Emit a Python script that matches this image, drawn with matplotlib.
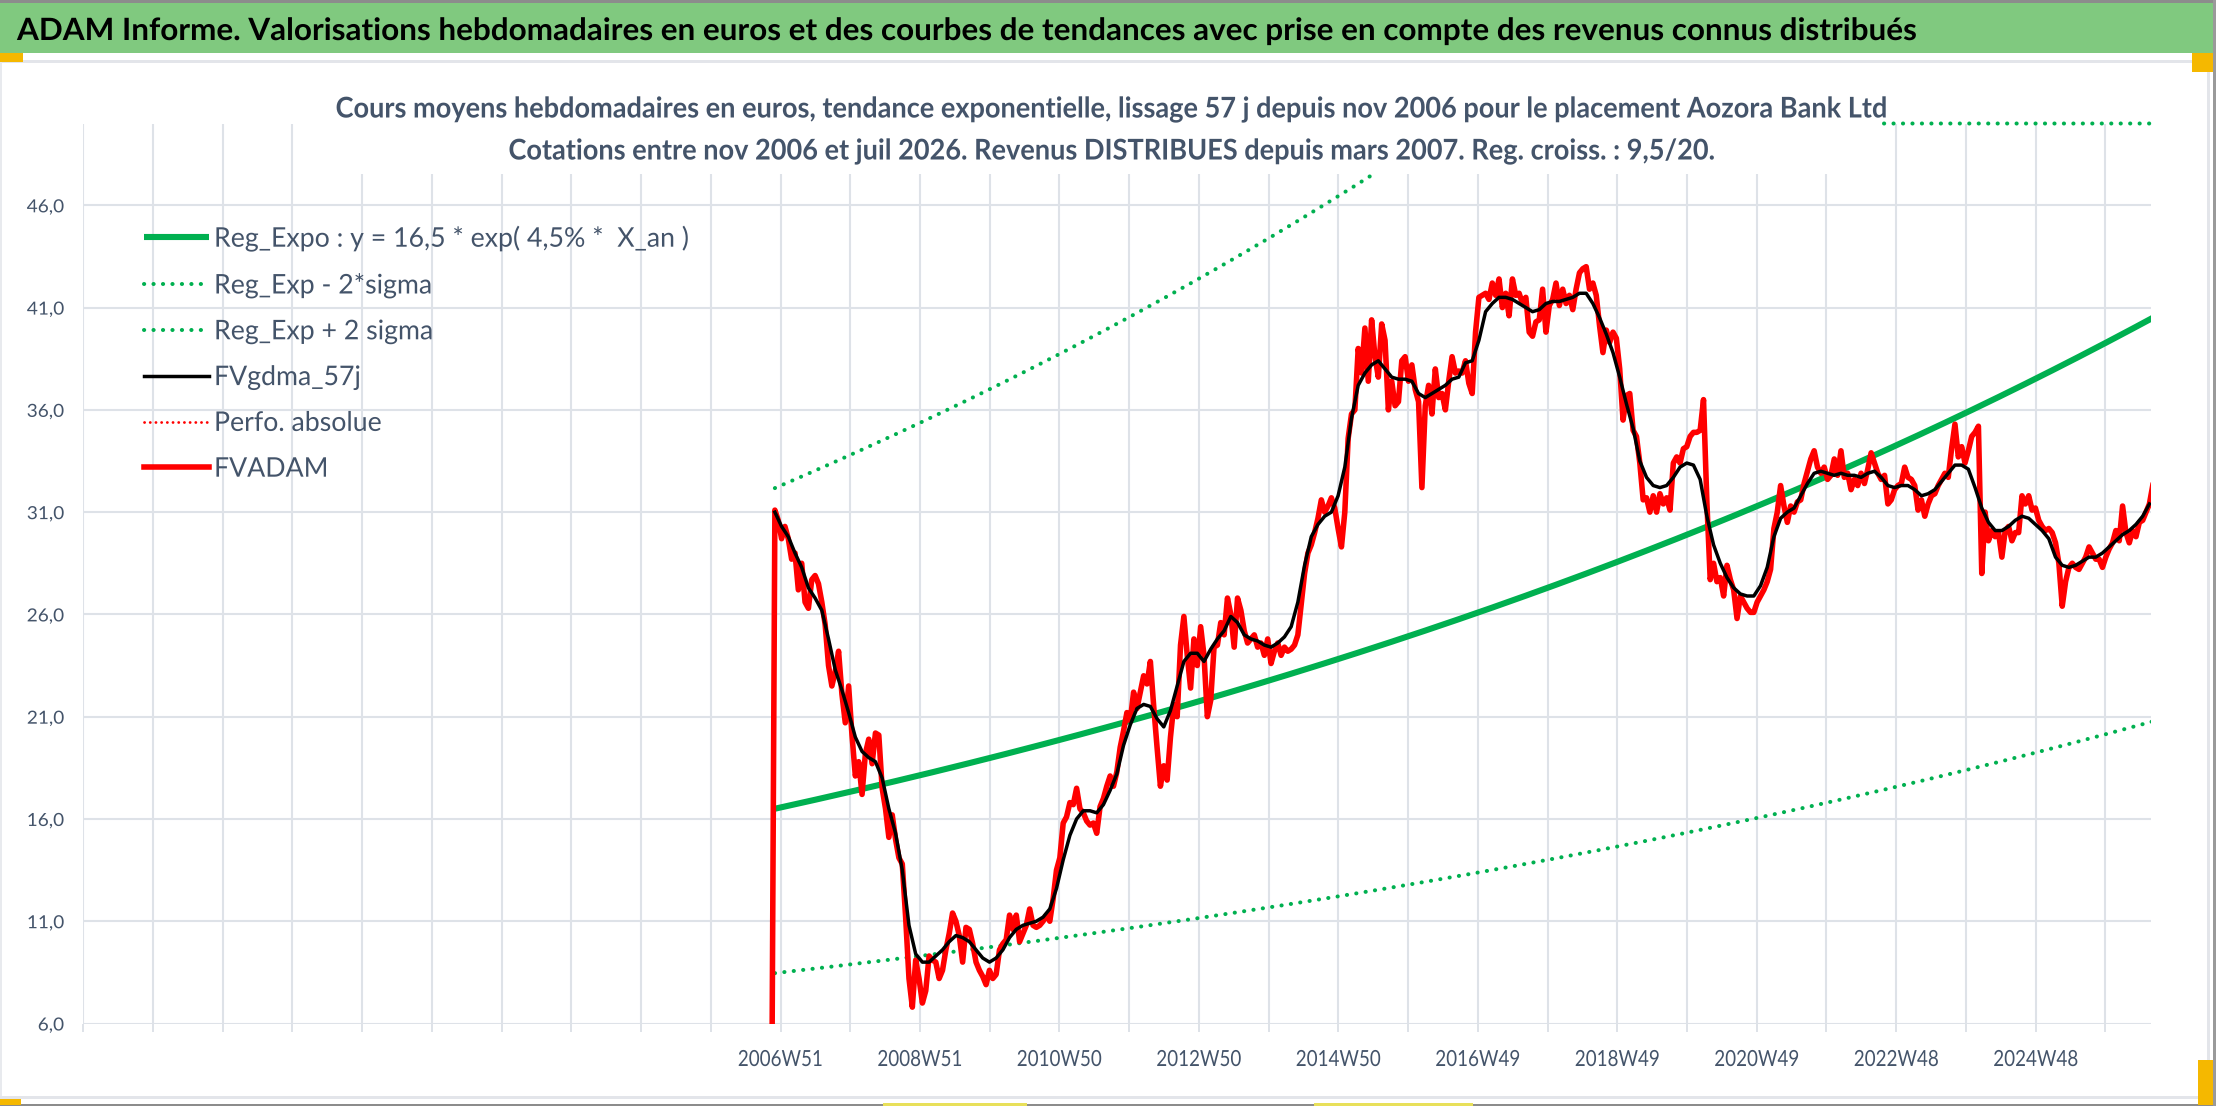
import numpy as np
import matplotlib
matplotlib.use("Agg")
import matplotlib.pyplot as plt
from matplotlib.patches import Rectangle
from matplotlib.patheffects import AbstractPathEffect
from matplotlib.transforms import Affine2D
from matplotlib.font_manager import FontProperties

# ---------------- data ----------------
week_labels = ["2006W51", "2008W51", "2010W50", "2012W50", "2014W50",
               "2016W49", "2018W49", "2020W49", "2022W48", "2024W48"]
first_label_week = 520      # category index of "2006W51"
label_every = 104           # weeks between two labels
grid_every = 52             # weeks between two tick marks / gridlines
n_weeks = 1542              # number of weekly categories on the axis

ytick_values = [6, 11, 16, 21, 26, 31, 36, 41, 46]
y_min, y_max = 6.0, 50.0

# FVADAM weekly valuation (sampled every 2.5 weeks, first point = start drop)
red_start_week = 513.3
red_step = 2.5
fvadam = [0.0,
    31.1, 30.6, 29.7, 30.3, 29.7, 28.7, 29.0, 27.2, 28.5, 26.6,
    26.3, 27.7, 27.9, 27.5, 26.6, 25.5, 23.5, 22.5, 23.2, 24.2,
    22.1, 20.7, 22.5, 20.1, 18.1, 18.8, 17.2, 19.2, 19.9, 18.7,
    20.2, 20.1, 17.5, 16.5, 15.1, 16.2, 15.0, 14.1, 13.8, 11.2,
    8.2, 6.8, 9.1, 8.2, 7.0, 7.6, 9.3, 9.1, 9.0, 8.2,
    8.6, 9.6, 10.4, 11.4, 11.0, 10.3, 9.0, 10.7, 10.6, 9.9,
    9.0, 8.6, 8.3, 7.9, 8.6, 8.2, 8.4, 9.6, 9.9, 10.1,
    11.3, 10.6, 11.3, 10.0, 10.4, 10.8, 11.6, 10.8, 10.7, 10.8,
    11.0, 11.3, 11.0, 12.1, 13.5, 14.1, 15.8, 16.1, 16.8, 16.7,
    17.5, 16.5, 16.3, 15.9, 15.7, 15.8, 15.3, 16.6, 17.0, 17.6,
    18.1, 17.6, 18.3, 19.5,
    20.3, 21.2, 20.8, 22.2, 21.4, 22.2, 23.0, 22.6, 23.7, 21.5,
    19.5, 17.6, 18.6, 17.9, 20.0, 21.6, 21.0, 24.5, 25.9, 24.0,
    22.4, 24.8, 23.5, 25.4, 24.0, 21.0, 21.8, 24.4, 24.5, 25.6,
    25.0, 26.8, 26.0, 24.4, 26.8, 26.2, 25.2, 24.6, 24.8, 25.0,
    24.4, 24.6, 24.0, 24.8, 23.6, 24.2, 24.6, 24.0, 24.4, 24.2,
    24.3, 24.5, 25.0, 26.5, 28.0, 29.0, 29.4, 30.0, 30.7, 31.6,
    31.0, 31.3, 31.7, 31.2, 30.2, 29.3, 31.0, 34.6, 35.8, 36.0,
    39.0, 37.8, 40.0, 37.4, 40.4, 38.6, 37.6, 40.2, 39.4, 36.0,
    37.4, 36.2, 36.4, 38.4, 38.6, 37.4, 38.2, 37.0, 36.4, 32.2,
    36.2, 37.2, 35.8, 38.0, 36.6, 36.8, 36.0, 37.4, 38.6, 37.8,
    37.9,
    37.8, 38.4, 37.3, 36.8, 39.8, 41.5, 41.6, 41.7, 41.4, 42.2,
    41.6, 42.4, 41.0, 41.7, 40.6, 42.4, 41.6, 41.7, 41.2, 41.5,
    39.8, 39.6, 40.3, 40.4, 41.9, 39.8, 41.1, 41.4, 42.2, 41.1,
    41.9, 41.2, 41.6, 40.9, 41.9, 42.7, 42.9, 43.0, 41.9, 42.2,
    41.6, 40.1, 38.8, 39.9, 39.3, 39.8, 39.5, 38.0, 35.5, 36.7,
    36.8, 35.0, 34.7, 33.4, 31.6, 31.7, 31.0, 31.8, 31.0, 31.9,
    31.4, 31.7, 31.1, 33.4, 33.7, 33.4, 34.1, 34.2, 34.7, 34.9,
    34.9, 35.0, 36.5, 31.5, 27.7, 28.5, 27.6, 27.8, 26.9, 28.4,
    27.7, 27.2, 25.8, 26.9, 26.6, 26.3, 26.1, 26.1, 26.6, 26.9,
    27.2, 27.6, 28.2, 30.2, 31.0, 32.3, 31.3, 30.5, 31.3, 31.0,
    31.5, 31.6,
    32.4, 33.0, 33.6, 34.0, 33.2, 32.9, 33.2, 32.6, 32.8, 33.6,
    32.8, 34.0, 32.7, 32.9, 32.1, 32.6, 32.3, 32.9, 32.4, 33.1,
    33.9, 33.4, 32.9, 32.6, 32.8, 31.4, 31.6, 32.1, 32.3, 32.4,
    33.2, 32.7, 32.6, 32.3, 31.1, 31.6, 30.8, 31.4, 31.8, 31.9,
    32.3, 32.6, 32.9, 32.7, 34.1, 35.3, 33.7, 34.2, 33.4, 34.0,
    34.7, 34.9, 35.2, 28.0, 31.0, 29.6, 30.1, 29.8, 30.0, 28.8,
    30.1, 30.3, 29.6, 30.0, 30.0, 31.8, 31.4, 31.8, 31.1, 31.2,
    30.6, 30.3, 30.1, 30.2, 30.0, 29.5, 28.5, 26.4, 27.6, 28.3,
    28.5, 28.3, 28.2, 28.5, 28.8, 29.3, 29.0, 28.7, 28.7, 28.3,
    28.8, 29.2, 29.5, 30.1, 29.6, 31.3, 30.0, 29.5, 30.1, 29.8,
    30.5, 30.6, 31.0, 31.4, 32.3]

# FVgdma_57j smoothed curve (sampled every 5 weeks)
black_start_week = 515.8
black_step = 5.0
fvgdma_57j = [
    31.0, 30.3, 29.8, 29.0, 28.3, 27.3, 26.8, 26.2, 24.8, 23.3,
    22.3, 21.2, 20.0, 19.3, 19.0, 18.8, 18.0, 16.5, 15.3, 13.5,
    10.8, 9.4, 9.0, 9.0, 9.3, 9.6, 10.0, 10.3, 10.2, 10.0,
    9.6, 9.2, 9.0, 9.2, 9.6, 10.2, 10.6, 10.8, 10.9, 11.0,
    11.2, 11.6, 12.6, 14.0, 15.2, 16.0, 16.4, 16.4, 16.3, 16.7,
    17.4, 18.2,
    19.6, 20.6, 21.4, 21.6, 21.5, 20.9, 20.5, 21.3, 22.5, 23.7,
    24.1, 24.1, 23.7, 24.3, 24.8, 25.2, 25.9, 25.6, 25.0, 24.8,
    24.7, 24.5, 24.4, 24.6, 24.9, 25.4, 26.6, 28.4, 29.8, 30.4,
    30.8, 31.0, 31.8, 33.2, 35.6, 37.2, 37.8, 38.2, 38.4, 38.0,
    37.6, 37.5, 37.5, 37.4, 36.8, 36.6, 36.8, 37.0, 37.2, 37.5,
    37.6,
    38.3, 38.4, 39.4, 40.8, 41.2, 41.5, 41.5, 41.4, 41.2, 41.0,
    40.8, 40.9, 41.2, 41.3, 41.3, 41.4, 41.5, 41.7, 41.7, 41.2,
    40.5, 39.7, 38.8, 37.6, 36.3, 35.1, 33.5, 32.7, 32.3, 32.2,
    32.3, 32.7, 33.2, 33.4, 33.3, 32.6, 30.8, 29.4, 28.5, 27.8,
    27.3, 27.0, 26.9, 26.9, 27.4, 28.3, 29.8, 30.7, 31.0, 31.2,
    31.8, 32.4, 32.9, 33.0, 32.9, 32.8, 32.9, 32.8, 32.8, 32.7,
    32.9, 33.0, 32.7, 32.3, 32.2, 32.3, 32.3, 32.1, 31.8, 31.9,
    32.1, 32.5, 32.9, 33.3, 33.3, 33.1, 32.2, 31.2, 30.5, 30.1,
    30.1, 30.3, 30.6, 30.8, 30.7, 30.4, 30.1, 29.7, 28.8, 28.4,
    28.3, 28.4, 28.6, 28.8, 28.8, 29.0, 29.3, 29.6, 29.9, 30.1,
    30.4, 30.8, 31.4]

# Exponential regression  y = a * exp(b * X_an), bands = reg * / factor
reg_a = 16.5
reg_b = 0.0456
sigma_factor = 1.95
weeks_per_year = 52.18

legend_labels = ["Reg_Expo : y = 16,5 * exp( 4,5% *  X_an )",
                 "Reg_Exp - 2*sigma", "Reg_Exp + 2 sigma",
                 "FVgdma_57j", "Perfo. absolue", "FVADAM"]

title_text = ("ADAM Informe. Valorisations hebdomadaires en euros et des courbes de "
              "tendances avec prise en compte des revenus connus distribués")
subtitle_1 = ("Cours moyens hebdomadaires en euros, tendance exponentielle, lissage 57 j "
              "depuis nov 2006 pour le placement Aozora Bank Ltd")
subtitle_2 = ("Cotations entre nov 2006 et juil 2026. Revenus DISTRIBUES depuis mars 2007. "
              "Reg. croiss. : 9,5/20.")

# ---------------- style ----------------
W, H, DPI = 2216, 1106, 100
FONT = ['Lato', 'DejaVu Sans']
plt.rcParams['font.family'] = FONT
TXT = '#44546A'
GREEN = '#00B050'
RED = '#FF0000'
GRID = '#DEE2E8'
ORANGE = '#F5B800'
YELLOW = '#E8E05A'

fig = plt.figure(figsize=(W / DPI, H / DPI), dpi=DPI)
renderer = fig.canvas.get_renderer()


class VStretch(AbstractPathEffect):
    """Stretch glyphs vertically about their baseline (narrow-font look)."""
    def __init__(self, sy):
        super().__init__()
        self.sy = sy

    def draw_path(self, renderer, gc, tpath, affine, rgbFace=None):
        x0, y0 = affine.transform(np.array([0.0, 0.0]))
        aff = affine + Affine2D().translate(-x0, -y0).scale(1, self.sy).translate(x0, y0)
        renderer.draw_path(gc, tpath, aff, rgbFace)


def metrics(s, size, weight='normal'):
    fp = FontProperties(family=FONT, size=size, weight=weight)
    return renderer.get_text_width_height_descent(s, fp, ismath=False)


def fit_size(s, target_px, weight='normal'):
    w = metrics(s, 20, weight)[0]
    return 20.0 * target_px / w


def stretch_for(size, target_cap, weight='normal'):
    w, h, d = metrics("H", size, weight)
    return target_cap / (h - d)


def fx(px):
    return px / W


def fy(py):
    return 1 - py / H


def rect(x0, y0, x1, y1, color, z=1):
    fig.add_artist(Rectangle((fx(x0), fy(y1)), (x1 - x0) / W, (y1 - y0) / H,
                             transform=fig.transFigure, color=color, lw=0, zorder=z))


# frame decorations (sheet borders / selection handles around the chart)
rect(0, 0, W, 3, '#8C8C8C')
rect(0, 3, 2213, 53, '#80C97F')
rect(0, 60, 2210, 63, '#E3E5EA')
rect(2207, 62, 2210, 1098, '#E3E5EA')
rect(0, 62, 2, 1106, '#E8EAEE')
rect(0, 1096, 2210, 1099, '#E3E5EA')
rect(0, 1104, W, 1106, '#8C8C8C')
rect(2213, 0, W, 1106, '#9A9A9A')
rect(0, 53, 23, 62, ORANGE)
rect(2192, 53, 2213, 72, ORANGE)
rect(0, 1099, 21, 1105, ORANGE)
rect(2198, 1060, 2213, 1105, ORANGE)
rect(883, 1103, 1027, 1106, YELLOW)
rect(1314, 1103, 1473, 1106, YELLOW)

# title
fs_title = fit_size(title_text, 1901, 'bold')
t = fig.text(fx(17), fy(40), title_text, fontsize=fs_title, fontweight='bold',
             color='black', ha='left', va='baseline')
t.set_path_effects([VStretch(stretch_for(fs_title, 21.5, 'bold'))])

# axes
L, R, T, B = 83.2, 2151.0, 123.5, 1023.5
ax = fig.add_axes([fx(L), fy(B), (R - L) / W, (B - T) / H])
ax.set_xlim(0, n_weeks)
ax.set_ylim(y_min, y_max)
for s in ax.spines.values():
    s.set_visible(False)

red_x = red_start_week + red_step * np.arange(len(fvadam))
black_x = black_start_week + black_step * np.arange(len(fvgdma_57j))
trend_x = red_x[1:]
t_years = (trend_x - black_start_week) / weeks_per_year
reg = reg_a * np.exp(reg_b * t_years)
lower = reg / sigma_factor
upper = reg * sigma_factor

dot = (0, (0.05, 2.3))
l_reg, = ax.plot(trend_x, reg, color=GREEN, lw=4.4, zorder=3, solid_capstyle='butt')
l_low, = ax.plot(trend_x, lower, color=GREEN, lw=2.9, ls=dot, dash_capstyle='round', zorder=3)
l_up, = ax.plot(trend_x, np.minimum(upper, y_max), color=GREEN, lw=2.9, ls=dot,
                dash_capstyle='round', zorder=3, clip_on=False)
l_perf, = ax.plot([], [], color=RED, lw=2.0, ls=(0, (0.05, 2.0)), dash_capstyle='round')
l_red, = ax.plot(red_x, fvadam, color=RED, lw=4.0, zorder=4, solid_joinstyle='round')
l_black, = ax.plot(black_x, fvgdma_57j, color='black', lw=2.5, zorder=5)

# y axis
fs_y = fit_size("46,0", 37.5)
ax.set_yticks(ytick_values)
ax.set_yticklabels([f"{v:.1f}".replace('.', ',') for v in ytick_values])
ax.tick_params(axis='y', length=0, pad=19 * 0.72, labelsize=fs_y, labelcolor=TXT)
sy_y = stretch_for(fs_y, 13.3)
for lab in ax.get_yticklabels():
    lab.set_path_effects([VStretch(sy_y)])

# x axis
xt = np.arange(0, n_weeks, grid_every)
labels_map = {first_label_week + label_every * k: lab for k, lab in enumerate(week_labels)}
ax.set_xticks(xt)
ax.set_xticklabels([labels_map.get(int(v), "") for v in xt])
fs_x = fit_size("2006W51", 85)
w_lp, h_lp, d_lp = metrics("lp", fs_x)
w_x, h_x, d_x = metrics("2006W51", fs_x)
asc_x = max(h_lp - d_lp, h_x - d_x)
pad_px = 1066 - (B + 8) - asc_x
ax.tick_params(axis='x', length=8 * 0.72, width=1.4, color=GRID, pad=pad_px * 0.72,
               labelsize=fs_x, labelcolor=TXT)
sy_x = stretch_for(fs_x, 16.5)
for lab in ax.get_xticklabels():
    lab.set_path_effects([VStretch(sy_x)])
ax.grid(True, color=GRID, lw=1.5, zorder=0)
ax.set_axisbelow(True)

# legend (row pitch 46 px, first baseline at y = 246.7 px)
fs_leg = fit_size(legend_labels[0], 475)
fs_leg_px = fs_leg * DPI / 72
sy_leg = stretch_for(fs_leg, 20.3)
handles = [l_reg, l_low, l_up, l_black, l_perf, l_red]
spacing = 0.5
anchor_y = 246.7 - 0.9 * fs_leg_px
_, _, d_leg_lp = metrics("lp", fs_leg)
leg = None
for _ in range(3):
    if leg is not None:
        leg.remove()
    leg = ax.legend(handles, legend_labels, loc='upper left',
                    bbox_to_anchor=(fx(144), fy(anchor_y)), bbox_transform=fig.transFigure,
                    frameon=False, fontsize=fs_leg, handlelength=65 / fs_leg_px,
                    handletextpad=5 / fs_leg_px, labelspacing=spacing,
                    borderpad=0, borderaxespad=0, labelcolor=TXT)
    fig.canvas.draw()
    exts = [tx.get_window_extent(renderer) for tx in leg.get_texts()]
    pitch = (exts[0].y0 - exts[-1].y0) / (len(exts) - 1)
    first_base = H - (exts[0].y0 + d_leg_lp)
    spacing += (46 - pitch) / fs_leg_px
    anchor_y += 246.7 - first_base
leg.set_zorder(6)
for tx in leg.get_texts():
    tx.set_path_effects([VStretch(sy_leg)])

# subtitle: white panel (hides curves under it, as in the source chart)
rect(336, 92, 1882, 174, 'white', z=9)
fs_sub = fit_size(subtitle_1, 1552, 'bold')
sy_sub = stretch_for(fs_sub, 20.0, 'bold')
for txt, base in ((subtitle_1, 117.5), (subtitle_2, 159.5)):
    st = fig.text(fx(1111), fy(base), txt, fontsize=fs_sub, fontweight='bold', color=TXT,
                  ha='center', va='baseline', zorder=10)
    st.set_path_effects([VStretch(sy_sub)])

fig.savefig("out.png", dpi=DPI)
